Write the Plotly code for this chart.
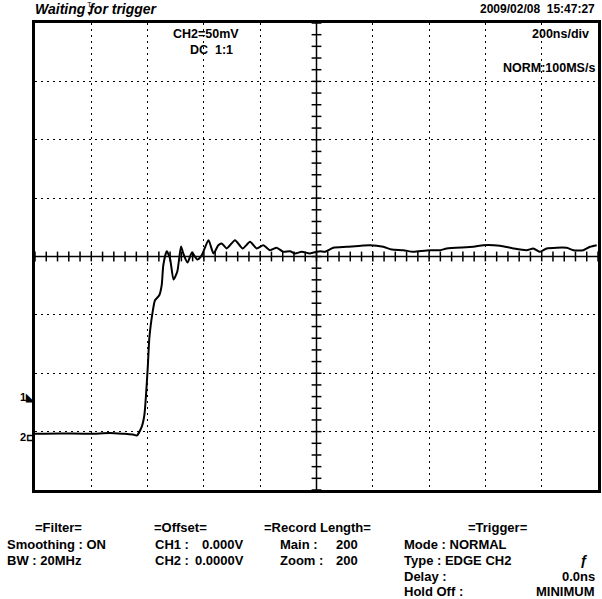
import plotly.graph_objects as go

# ---- data (CH2 trace) ----
time_ns = [0, 88.8, 195.4, 266.4, 319.7, 348.1, 361.3, 379.0, 388.3, 394.3, 400.3, 406.0,
           411.0, 418.1, 426.3, 441.6, 450.1, 455.8, 467.8, 479.6, 492.0, 505.5, 518.7,
           526.8, 541.7, 557.7, 576.6, 592.2, 616.3, 634.1, 651.2, 663.2, 681.0, 710.5,
           737.8, 763.8, 787.6, 811.0, 834.8, 858.6, 882.1, 905.9, 923.6, 947.4, 976.9,
           1000.7, 1012.4, 1030.2, 1059.7, 1107.3, 1190.1, 1237.4, 1267.2, 1308.4, 1343.9,
           1391.5, 1439.8, 1462.5, 1557.0, 1592.5, 1651.8, 1699.1, 1746.7, 1770.2, 1794.0,
           1817.8, 1888.8, 1912.3, 1947.8, 1971.6, 1995.4]
ch2_mV = [-151.9, -151.5, -151.9, -151.1, -151.9, -152.4, -153.4, -145.9, -136.2, -119.0,
          -96.2, -70.4, -59.0, -47.2, -37.5, -33.2, -24.6, -7.5, 4.5, -1.7, -19.7, -12.9,
          8.6, 2.6, -5.2, 3.4, -2.6, 0.9, 14.0, 2.6, 9.7, 11.2, 6.9, 14.0, 6.9, 12.6, 6.9,
          9.7, 5.4, 7.5, 4.0, 4.5, 2.6, 4.0, 2.6, 4.0, 4.5, 4.0, 7.5, 8.3, 9.7, 8.3, 6.0,
          5.4, 4.0, 5.2, 5.4, 6.9, 8.3, 9.7, 9.2, 6.9, 5.4, 6.9, 4.0, 6.9, 7.5, 5.4, 5.4,
          8.3, 9.7]

x_range = [0, 2000]      # 10 div x 200 ns
y_range = [-200, 200]    # 8 div x 50 mV
x_div = 200
y_div = 50

W, H = 602, 599
L, R, T, B = 35, 4, 23, 109
PW, PH = W - L - R, H - T - B

def px(x):
    return (x - L) / PW

def py(y):
    return (H - B - y) / PH

FONT = "Liberation Sans"

fig = go.Figure()

# centre-line tick marks (1/5 division)
hx = [x_range[0] + i * x_div / 5 for i in range(51)]
fig.add_trace(go.Scatter(x=hx, y=[0] * len(hx), mode="markers",
                         marker=dict(symbol="line-ns", size=7, line=dict(width=1.5, color="black")),
                         hoverinfo="skip", showlegend=False))
vy = [y_range[0] + i * y_div / 5 for i in range(41)]
fig.add_trace(go.Scatter(x=[1000] * len(vy), y=vy, mode="markers",
                         marker=dict(symbol="line-ew", size=7, line=dict(width=1.5, color="black")),
                         hoverinfo="skip", showlegend=False))

fig.add_trace(go.Scatter(x=time_ns, y=ch2_mV, mode="lines",
                         line=dict(color="black", width=2, shape="spline", smoothing=0.6),
                         showlegend=False))

fig.add_shape(type="line", x0=x_range[0], x1=x_range[1], y0=0, y1=0,
              line=dict(color="black", width=1.5), layer="above")
fig.add_shape(type="line", x0=1000, x1=1000, y0=y_range[0], y1=y_range[1],
              line=dict(color="black", width=1.5), layer="above")

axis_common = dict(showgrid=True, gridcolor="black", gridwidth=1.3, griddash="2px,4px",
                   zeroline=False, showline=True, linecolor="black", linewidth=2.5,
                   mirror=True, showticklabels=False, ticks="")
fig.update_xaxes(range=x_range, dtick=x_div, tick0=0, **axis_common)
fig.update_yaxes(range=y_range, dtick=y_div, tick0=-200, **axis_common)

ann = []

def text(x, y, s, size=13, anchor="left", bold=True, italic=False, family=FONT):
    t = s
    if bold:
        t = "<b>" + t + "</b>"
    if italic:
        t = "<i>" + t + "</i>"
    ann.append(dict(x=px(x), y=py(y), xref="paper", yref="paper", text=t, showarrow=False,
                    xanchor=anchor, yanchor="middle",
                    font=dict(size=size, family=family, color="black")))

text(33, 9, "Waiting for trigger", size=14, italic=True)
text(597, 9, "2009/02/08  15:47:27", size=12, anchor="right")
text(89, 9, "T<br>▼", size=7, anchor="center", bold=False)
text(171, 34, "CH2=50mV", size=12.5)
text(188, 50, "DC  1:1", size=12.5)
text(591, 34, "200ns/div", size=12.5, anchor="right")
text(597, 68, "NORM:100MS/s", size=12.5, anchor="right")

text(18, 397, "1◣", size=11)
text(18, 437, "2⊏", size=11)

row = [527, 544, 560, 576, 591]
text(58, row[0], "=Filter=", anchor="center")
text(5, row[1], "Smoothing : ON")
text(5, row[2], "BW : 20MHz")
text(180, row[0], "=Offset=", anchor="center")
text(153, row[1], "CH1 :")
text(246, row[1], "0.000V", anchor="right")
text(153, row[2], "CH2 :")
text(246, row[2], "0.0000V", anchor="right")
text(318, row[0], "=Record Length=", anchor="center")
text(278, row[1], "Main :")
text(360, row[1], "200", anchor="right")
text(278, row[2], "Zoom :")
text(360, row[2], "200", anchor="right")
text(498, row[0], "=Trigger=", anchor="center")
text(402, row[1], "Mode : NORMAL")
text(402, row[2], "Type : EDGE CH2")
text(584, row[2], "ƒ", size=14, anchor="center")
text(402, row[3], "Delay :")
text(597, row[3], "0.0ns", anchor="right")
text(402, row[4], "Hold Off :")
text(597, row[4], "MINIMUM", anchor="right")

fig.update_layout(width=W, height=H, margin=dict(l=L, r=R, t=T, b=B, autoexpand=False),
                  paper_bgcolor="white", plot_bgcolor="white", annotations=ann,
                  showlegend=False)

fig.write_html("out.html", config={"displayModeBar": False},
               post_script="document.body.style.margin='0px';document.body.style.overflow='hidden';")
